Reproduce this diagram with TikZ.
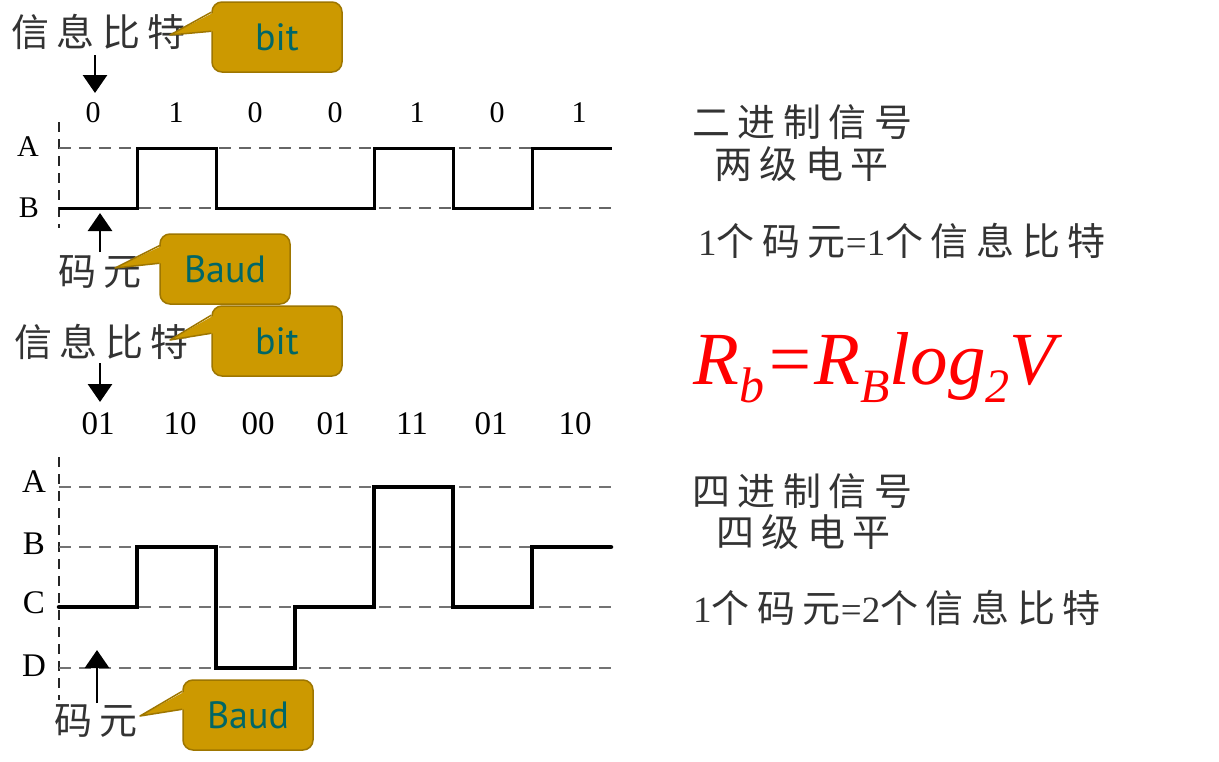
\documentclass[tikz,border=0pt]{standalone}
\usepackage{fontspec}
\setmainfont{Liberation Serif}
\newfontfamily\cjk{Noto Sans CJK SC}[LetterSpace=20]
\newfontfamily\callfont{PT Sans}
\usetikzlibrary{arrows.meta}
\definecolor{gold}{RGB}{204,153,0}
\definecolor{goldline}{RGB}{158,118,0}
\definecolor{tealtxt}{RGB}{0,102,102}
\tikzset{
  cjktxt/.style={inner sep=0pt, anchor=west, font=\cjk\fontsize{38}{38}\selectfont, text=black!80},
  lvl/.style={inner sep=0pt, font=\fontsize{30}{30}\selectfont},
  lvlb/.style={inner sep=0pt, font=\fontsize{33}{33}\selectfont},
  bitlbl/.style={inner sep=0pt, font=\fontsize{30}{30}\selectfont},
  bitlblb/.style={inner sep=0pt, font=\fontsize{33}{33}\selectfont},
  callbox/.style={draw=goldline, fill=gold, line width=1.5pt, rounded corners=10pt,
     minimum width=130pt, minimum height=70pt, inner sep=0pt, text=tealtxt,
     font=\callfont\fontsize{38}{38}\selectfont},
  callptr/.style={draw=goldline, line width=1.5pt, line join=round},
  axisline/.style={dashed, dash pattern=on 10pt off 7pt, line width=2pt, black!85},
  lvlline/.style={dash pattern=on 12pt off 8pt, line width=2pt, black!60},
  lvllineb/.style={dash pattern=on 12pt off 8pt, line width=2.6pt, black!55},
  wave/.style={line width=3pt, line join=miter},
  waveb/.style={line width=4.5pt, line join=miter, line cap=round},
  arr/.style={-{Triangle[width=24pt,length=18pt]}, line width=2.8pt},
}
\newcommand{\dg}[1]{{\rmfamily\fontsize{37}{37}\selectfont #1}}
\begin{document}
\begin{tikzpicture}[x=1pt, y={(0pt,-1pt)}]
\useasboundingbox (0,0) rectangle (1219,761);
\fill[white] (0,0) rectangle (1219,761);

% ================= top: binary =================
\node[cjktxt] (t1) at (11,32) {信息比特};
\coordinate (a1s) at (95,55);
\coordinate (a1e) at (95,93);
\draw[arr] (a1s) -- (a1e);

\node[bitlbl] (b1) at (93,113) {0};
\node[bitlbl] (b2) at (176,113) {1};
\node[bitlbl] (b3) at (255,113) {0};
\node[bitlbl] (b4) at (335,113) {0};
\node[bitlbl] (b5) at (417,113) {1};
\node[bitlbl] (b6) at (497,113) {0};
\node[bitlbl] (b7) at (579,113) {1};

\node[lvl] (lA1) at (28,147) {A};
\node[lvl] (lB1) at (29,208) {B};

\draw[axisline] (59,122) -- (59,228);
\draw[lvlline] (59,148) -- (612,148);
\draw[lvlline] (59,208) -- (612,208);
\draw[wave] (59,208) -- (137,208) -- (137,148) -- (216,148) -- (216,208) -- (374,208)
  -- (374,148) -- (453,148) -- (453,208) -- (532,208) -- (532,148) -- (612,148);

\coordinate (a2s) at (100,252);
\coordinate (a2e) at (100,213);
\draw[arr] (a2s) -- (a2e);
\node[cjktxt] (m1) at (58,272) {码元};

% callouts top
\node[callbox] (c1) at (277,37) {bit};
\coordinate (tip1) at (170,35);
\fill[gold] (tip1) -- ([shift={(3pt,-11pt)}]c1.north west) -- ([shift={(3pt,-30pt)}]c1.north west) -- cycle;
\draw[callptr] ([yshift=-11pt]c1.north west) -- (tip1) -- ([yshift=-30pt]c1.north west);

\node[callbox] (c2) at (225,269) {Baud};
\coordinate (tip2) at (115,268);
\fill[gold] (tip2) -- ([shift={(4pt,-12pt)}]c2.north west) -- ([shift={(3pt,-30pt)}]c2.north west) -- cycle;
\draw[callptr] ([shift={(1pt,-12pt)}]c2.north west) -- (tip2) -- ([yshift=-30pt]c2.north west);

% ================= bottom: quaternary =================
\node[cjktxt] (t2) at (14,342) {信息比特};
\node[callbox] (c3) at (277,341) {bit};
\coordinate (tip3) at (170,340);
\fill[gold] (tip3) -- ([shift={(3pt,-10pt)}]c3.north west) -- ([shift={(3pt,-28pt)}]c3.north west) -- cycle;
\draw[callptr] ([yshift=-10pt]c3.north west) -- (tip3) -- ([yshift=-28pt]c3.north west);

\coordinate (a3s) at (100,363);
\coordinate (a3e) at (100,402);
\draw[arr] (a3s) -- (a3e);

\node[bitlblb] (q1) at (98,424) {01};
\node[bitlblb] (q2) at (180,424) {10};
\node[bitlblb] (q3) at (258,424) {00};
\node[bitlblb] (q4) at (333,424) {01};
\node[bitlblb] (q5) at (412,424) {11};
\node[bitlblb] (q6) at (491,424) {01};
\node[bitlblb] (q7) at (575,424) {10};

\node[lvlb] (lA2) at (34,482) {A};
\node[lvlb] (lB2) at (34,544) {B};
\node[lvlb] (lC2) at (34,603) {C};
\node[lvlb] (lD2) at (34,666) {D};

\draw[axisline] (59,457) -- (59,700);
\draw[lvllineb] (59,487) -- (612,487);
\draw[lvllineb] (59,547) -- (612,547);
\draw[lvllineb] (59,607) -- (612,607);
\draw[lvllineb] (59,668) -- (612,668);
\draw[waveb] (59,607) -- (137,607) -- (137,547) -- (216,547) -- (216,668) -- (295,668)
  -- (295,607) -- (374,607) -- (374,487) -- (453,487) -- (453,607) -- (532,607)
  -- (532,547) -- (611,547);

\coordinate (a4s) at (97,703);
\coordinate (a4e) at (97,650);
\draw[arr] (a4s) -- (a4e);
\node[cjktxt] (m2) at (54,721) {码元};

\node[callbox] (c4) at (248,715) {Baud};
\coordinate (tip4) at (140,716);
\fill[gold] (tip4) -- ([shift={(3pt,-12pt)}]c4.north west) -- ([shift={(3pt,-30pt)}]c4.north west) -- cycle;
\draw[callptr] ([yshift=-12pt]c4.north west) -- (tip4) -- ([yshift=-30pt]c4.north west);

% ================= right texts =================
\node[cjktxt] (r1) at (692,122) {二进制信号};
\node[cjktxt] (r2) at (714,164) {两级电平};
\node[cjktxt] (r3) at (698,241) {\dg{1}个码元\dg{=1}个信息比特};

\node[anchor=base west, inner sep=0pt, text=red,
  font=\fontsize{75}{75}\selectfont\itshape] (f) at (693,384)
  {R\raisebox{-18pt}{\fontsize{50}{50}\selectfont b}=R\raisebox{-18pt}{\fontsize{48}{48}\selectfont B}log\raisebox{-18pt}{\fontsize{48}{48}\selectfont 2}V};

\node[cjktxt] (r4) at (692,491) {四进制信号};
\node[cjktxt] (r5) at (716,532) {四级电平};
\node[cjktxt] (r6) at (693,608) {\dg{1}个码元\dg{=2}个信息比特};
\end{tikzpicture}
\end{document}
